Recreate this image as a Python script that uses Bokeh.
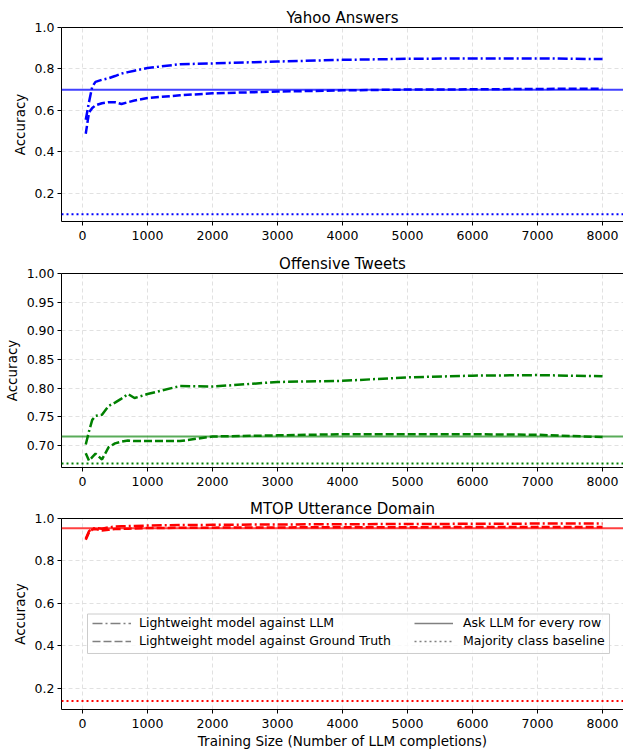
import math
from bokeh.plotting import figure
from bokeh.layouts import column
from bokeh.models import (FixedTicker, LinearAxis, Range1d, Legend, LegendItem,
                          PrintfTickFormatter, Span, BoxAnnotation)
from bokeh.embed import file_html
from bokeh.resources import INLINE

# ---------------- data ----------------
train_sizes = [50, 100, 150, 200, 300, 400, 500, 600, 700, 800, 1000, 1500,
               2000, 3000, 4000, 5000, 6000, 7000, 8000]

yahoo_vs_llm = [0.555, 0.640, 0.715, 0.738, 0.748, 0.755, 0.766, 0.778, 0.785, 0.792,
                0.805, 0.823, 0.827, 0.836, 0.844, 0.849, 0.851, 0.851, 0.848]
yahoo_vs_gt = [0.488, 0.590, 0.612, 0.625, 0.635, 0.640, 0.640, 0.631, 0.640, 0.648,
               0.660, 0.673, 0.683, 0.691, 0.697, 0.701, 0.702, 0.704, 0.705]
yahoo_ask_llm = 0.70
yahoo_majority = 0.10

tweets_vs_llm = [0.702, 0.725, 0.745, 0.752, 0.754, 0.769, 0.775, 0.782, 0.790, 0.783,
                 0.790, 0.804, 0.803, 0.811, 0.813, 0.819, 0.822, 0.823, 0.821]
tweets_vs_gt = [0.687, 0.674, 0.680, 0.686, 0.676, 0.697, 0.704, 0.707, 0.709, 0.708,
                0.708, 0.708, 0.716, 0.718, 0.720, 0.720, 0.720, 0.719, 0.715]
tweets_ask_llm = 0.716
tweets_majority = 0.669

mtop_vs_llm = [0.905, 0.940, 0.952, 0.955, 0.952, 0.958, 0.962, 0.963, 0.964, 0.965,
               0.967, 0.969, 0.970, 0.972, 0.973, 0.974, 0.975, 0.976, 0.976]
mtop_vs_gt = [0.900, 0.935, 0.948, 0.950, 0.944, 0.947, 0.950, 0.951, 0.952, 0.953,
              0.955, 0.956, 0.957, 0.958, 0.959, 0.959, 0.960, 0.960, 0.960]
mtop_ask_llm = 0.954
mtop_majority = 0.14

x_ticks = [0, 1000, 2000, 3000, 4000, 5000, 6000, 7000, 8000]
yticks_top = [0.2, 0.4, 0.6, 0.8, 1.0]
yticks_mid = [0.70, 0.75, 0.80, 0.85, 0.90, 0.95, 1.00]
yticks_bot = [0.2, 0.4, 0.6, 0.8, 1.0]

legend_labels = ["Lightweight model against LLM", "Lightweight model against Ground Truth",
                 "Ask LLM for every row", "Majority class baseline"]

# ---------------- styling ----------------
FONT = "DejaVu Sans"
TICK_FS = "12.5px"
DASHDOT = "10 3 2 3"
DASHED = "8 3"
DOTTED = "2 3"
W = 623


def make_fig(height, title, yrange, yticks, fmt, border_top, border_bottom, xlabel=None):
    p = figure(width=W, height=height, x_range=Range1d(-323, 8323),
               y_range=Range1d(*yrange), output_backend="svg", toolbar_location=None,
               min_border_left=61, min_border_right=0, min_border_top=border_top,
               min_border_bottom=border_bottom)
    p.outline_line_color = None
    p.background_fill_color = "white"
    p.border_fill_color = "white"
    p.title.text = title
    p.title.align = "center"
    p.title.text_font = FONT
    p.title.text_font_size = "15px"
    p.title.text_font_style = "normal"
    p.title.text_color = "black"
    p.title.standoff = 2
    p.title.offset = 0

    for ax in (p.xaxis[0], p.yaxis[0]):
        ax.major_label_text_font = FONT
        ax.major_label_text_font_size = TICK_FS
        ax.major_label_text_color = "black"
        ax.major_tick_out = 4
        ax.major_tick_in = 0
        ax.minor_tick_out = 0
        ax.minor_tick_in = 0
        ax.axis_line_color = "black"
        ax.major_tick_line_color = "black"
        ax.axis_label_text_font = FONT
        ax.axis_label_text_font_size = "13.5px"
        ax.axis_label_text_font_style = "normal"
        ax.axis_label_text_color = "black"
    p.xaxis.major_label_standoff = 5
    p.yaxis.major_label_standoff = 3
    p.xaxis.ticker = FixedTicker(ticks=x_ticks)
    p.yaxis.ticker = FixedTicker(ticks=yticks)
    p.yaxis.formatter = PrintfTickFormatter(format=fmt)
    p.yaxis.axis_label = "Accuracy"
    p.yaxis.axis_label_standoff = 4
    if xlabel:
        p.xaxis.axis_label = xlabel
        p.xaxis.axis_label_standoff = 2

    top = LinearAxis(ticker=FixedTicker(ticks=[]), major_label_text_font_size="0px",
                     major_tick_out=0, major_tick_in=0, minor_tick_out=0, minor_tick_in=0,
                     axis_line_color="black")
    p.add_layout(top, "above")

    p.xgrid.ticker = FixedTicker(ticks=x_ticks)
    p.ygrid.ticker = FixedTicker(ticks=yticks)
    for g in (p.xgrid[0], p.ygrid[0]):
        g.grid_line_color = "#d9d9d9"
        g.grid_line_dash = "4 3"
        g.grid_line_width = 0.8
    return p


def draw(p, color, vs_llm, vs_gt, ask, majority, solid_alpha):
    p.line(train_sizes, vs_llm, line_color=color, line_width=2.5, line_dash=DASHDOT)
    p.line(train_sizes, vs_gt, line_color=color, line_width=2.5, line_dash=DASHED)
    p.add_layout(Span(location=ask, dimension="width", line_color=color,
                      line_alpha=solid_alpha, line_width=1.8))
    p.add_layout(Span(location=majority, dimension="width", line_color=color,
                      line_width=2.0, line_dash=DOTTED))


p1 = make_fig(248, "Yahoo Answers", (0.065, 1.0), yticks_top, "%.1f", 27, 27)
draw(p1, "#0000ff", yahoo_vs_llm, yahoo_vs_gt, yahoo_ask_llm, yahoo_majority, 0.75)

p2 = make_fig(246, "Offensive Tweets", (0.662, 1.0), yticks_mid, "%.2f", 25, 27)
draw(p2, "#008000", tweets_vs_llm, tweets_vs_gt, tweets_ask_llm, tweets_majority, 0.65)

p3 = make_fig(257, "MTOP Utterance Domain", (0.10, 1.0), yticks_bot, "%.1f", 24, 39,
              xlabel="Training Size (Number of LLM completions)")
draw(p3, "#ff0000", mtop_vs_llm, mtop_vs_gt, mtop_ask_llm, mtop_majority, 0.75)

# legend frame (box behind the two legend columns)
p3.add_layout(BoxAnnotation(left=77, right=8108, bottom=0.364, top=0.550,
                            fill_color="white", fill_alpha=0.8,
                            line_color="#cccccc", line_width=1, line_alpha=1.0))

# legend handles (gray)
nan = float("nan")
handles = []
for dash in (DASHDOT, DASHED, "solid", DOTTED):
    handles.append(p3.line([nan], [nan], line_color="gray", line_width=1.6, line_dash=dash))
items = [LegendItem(label=lab, renderers=[r]) for lab, r in zip(legend_labels, handles)]


def make_legend(its, loc, standoff):
    lg = Legend(items=its, location=loc, orientation="vertical")
    lg.label_text_font = FONT
    lg.label_text_font_size = TICK_FS
    lg.label_text_color = "black"
    lg.glyph_width = 39
    lg.glyph_height = 14
    lg.label_standoff = standoff
    lg.spacing = 3
    lg.padding = 0
    lg.margin = 0
    lg.border_line_color = None
    lg.background_fill_alpha = 0.0
    return lg


p3.add_layout(make_legend(items[:2], (31, 61), 8), "center")
p3.add_layout(make_legend(items[2:], (353, 61), 10), "center")

layout = column(p1, p2, p3, spacing=0)
open("out.html", "w").write(file_html(layout, INLINE))
